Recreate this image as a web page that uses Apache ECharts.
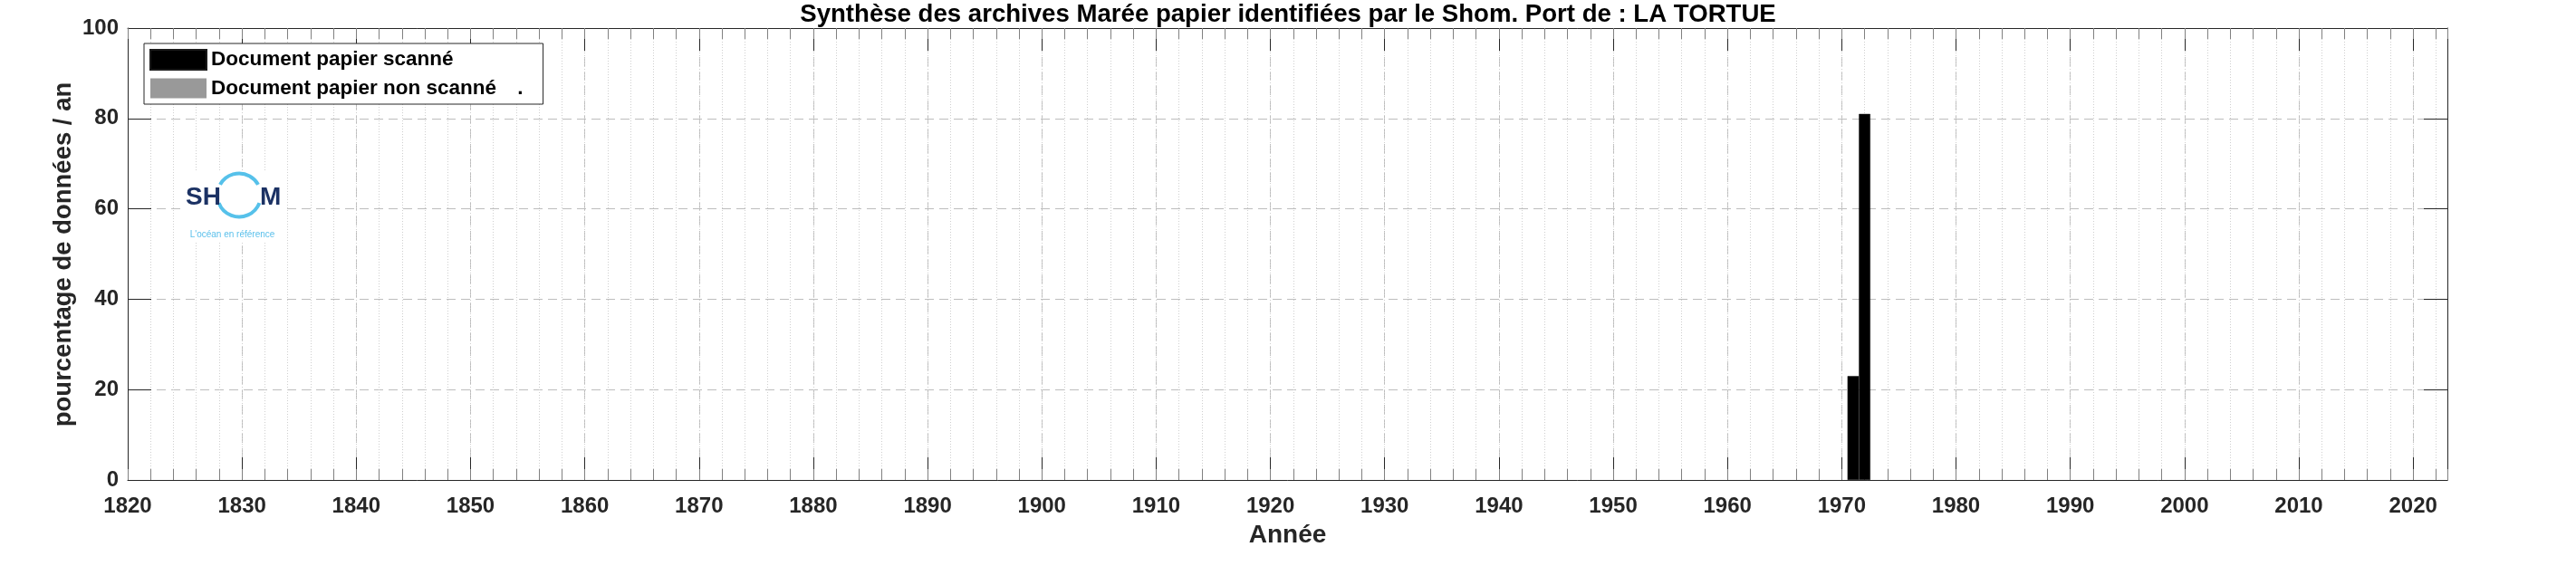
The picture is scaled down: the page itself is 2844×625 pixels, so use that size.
<!DOCTYPE html>
<html><head><meta charset="utf-8">
<script src="https://cdn.jsdelivr.net/npm/echarts@6/dist/echarts.min.js"></script>
<style>html,body{margin:0;padding:0;background:#fff}#c{width:2844px;height:625px}</style>
</head><body><div id="c"></div>
<script>
const chartTitle = 'Synthèse des archives Marée papier identifiées par le Shom. Port de : LA TORTUE';
const seriesNames = ['Document papier scanné', 'Document papier non scanné'];
const scannedYears = [1971, 1972];
const scannedValues = [23, 81];
const unscannedYears = [];
const unscannedValues = [];
const xAxisName = 'Année';
const yAxisName = 'pourcentage de données / an';
const xMin = 1820, xMax = 2023, xMajor = 10, xMinor = 2;
const yMin = 0, yMax = 100, yMajor = 20;
const logoWord = ['SH', 'M'];
const logoTagline = "L'océan en référence";

const FF = '"Liberation Sans", Arial, sans-serif';
const AX = '#262626';

function toPairs(xs, vs) { return xs.map((x, i) => [x, vs[i]]); }

const chart = echarts.init(document.getElementById('c'), null, {renderer: 'canvas'});

const baseX = {type: 'value', min: xMin, max: xMax};
const option = {
  animation: false,
  backgroundColor: '#fff',
  title: {
    text: chartTitle, left: 'center', top: 2, padding: 0,
    textStyle: {fontFamily: FF, fontSize: 27.6, fontWeight: 'bold', color: '#000'}
  },
  grid: {left: 141, right: 142, top: 31, bottom: 95, containLabel: false},
  legend: {
    orient: 'vertical', left: 159, top: 48,
    itemWidth: 62, itemHeight: 22, itemGap: 8,
    padding: [6, 22, 6, 6],
    borderColor: AX, borderWidth: 1, backgroundColor: '#fff',
    selectedMode: false,
    textStyle: {fontFamily: FF, fontSize: 22.5, fontWeight: 'bold', color: '#000'},
    formatter: n => n === seriesNames[1] ? n + '   \u2009.' : n,
    data: seriesNames.map(n => ({name: n, icon: 'rect'}))
  },
  xAxis: [
    Object.assign({}, baseX, {
      position: 'bottom', interval: xMajor,
      axisLine: {show: true, onZero: false, lineStyle: {color: AX, width: 1}},
      axisTick: {show: true, inside: true, length: 25, lineStyle: {color: AX}},
      axisLabel: {show: true, margin: 17, fontFamily: FF, fontSize: 24, fontWeight: 'bold', color: AX, showMaxLabel: false, formatter: v => String(v)},
      splitLine: {show: true, lineStyle: {type: [10, 6], color: '#bdbdbd', width: 1}},
      name: xAxisName, nameLocation: 'middle', nameGap: 47, nameMoveOverlap: false,
      nameTextStyle: {fontFamily: FF, fontSize: 28, fontWeight: 'bold', color: AX}
    }),
    Object.assign({}, baseX, {
      position: 'bottom', interval: xMinor,
      axisLine: {show: false, onZero: false},
      axisTick: {show: true, inside: true, length: 12, lineStyle: {color: '#808080'}},
      axisLabel: {show: false},
      splitLine: {show: true, lineStyle: {type: [1, 2], color: '#cfcfcf', width: 1}}
    }),
    Object.assign({}, baseX, {
      position: 'top', interval: xMajor,
      axisLine: {show: true, onZero: false, lineStyle: {color: AX, width: 1}},
      axisTick: {show: true, inside: true, length: 25, lineStyle: {color: AX}},
      axisLabel: {show: false}, splitLine: {show: false}
    }),
    Object.assign({}, baseX, {
      position: 'top', interval: xMinor,
      axisLine: {show: false, onZero: false},
      axisTick: {show: true, inside: true, length: 12, lineStyle: {color: '#808080'}},
      axisLabel: {show: false}, splitLine: {show: false}
    })
  ],
  yAxis: [
    {
      type: 'value', position: 'left', min: yMin, max: yMax, interval: yMajor,
      axisLine: {show: true, onZero: false, lineStyle: {color: AX, width: 1}},
      axisTick: {show: true, inside: true, length: 26, lineStyle: {color: AX}},
      axisLabel: {show: true, margin: 10, fontFamily: FF, fontSize: 24, fontWeight: 'bold', color: AX, formatter: v => String(v)},
      splitLine: {show: true, lineStyle: {type: [10, 6], color: '#bdbdbd', width: 1}}
    },
    {
      type: 'value', position: 'right', min: yMin, max: yMax, interval: yMajor,
      axisLine: {show: true, onZero: false, lineStyle: {color: AX, width: 1}},
      axisTick: {show: true, inside: true, length: 26, lineStyle: {color: AX}},
      axisLabel: {show: false}, splitLine: {show: false}
    }
  ],
  series: [
    {
      type: 'bar', name: seriesNames[0], stack: 'docs', xAxisIndex: 0, yAxisIndex: 0,
      barWidth: '100%', data: toPairs(scannedYears, scannedValues),
      itemStyle: {color: '#000', borderColor: '#1a1a1a', borderWidth: 0.5}
    },
    {
      type: 'bar', name: seriesNames[1], stack: 'docs', xAxisIndex: 0, yAxisIndex: 0,
      barWidth: '100%', data: toPairs(unscannedYears, unscannedValues),
      itemStyle: {color: '#999999'}
    }
  ],
  graphic: [
    {type: 'text', z: 5, x: 70, y: 281, rotation: Math.PI / 2,
     style: {text: yAxisName, font: 'bold 27.5px ' + FF, fill: AX, textAlign: 'center', textVerticalAlign: 'middle'}},
    {type: 'rect', z: 10, shape: {x: 200, y: 188, width: 112, height: 80}, style: {fill: '#fff'}},
    {type: 'arc', z: 11, shape: {cx: 264, cy: 215.5, r: 24, startAngle: Math.PI * 209 / 180, endAngle: Math.PI * 331 / 180, clockwise: true},
     style: {stroke: '#56c1ea', lineWidth: 4, fill: null}},
    {type: 'arc', z: 11, shape: {cx: 264, cy: 215.5, r: 24, startAngle: Math.PI * 21 / 180, endAngle: Math.PI * 159 / 180, clockwise: true},
     style: {stroke: '#56c1ea', lineWidth: 4, fill: null}},
    {type: 'text', z: 12, x: 205, y: 218, style: {text: logoWord[0], font: 'bold 28px ' + FF, fill: '#1c3264', textVerticalAlign: 'middle', textAlign: 'left'}},
    {type: 'text', z: 12, x: 287, y: 218, style: {text: logoWord[1], font: 'bold 28px ' + FF, fill: '#1c3264', textVerticalAlign: 'middle', textAlign: 'left'}},
    {type: 'text', z: 12, x: 256.5, y: 259, style: {text: logoTagline, font: '10px ' + FF, fill: '#5bc0eb', textVerticalAlign: 'middle', textAlign: 'center'}}
  ]
};
chart.setOption(option);
</script>
</body></html>
